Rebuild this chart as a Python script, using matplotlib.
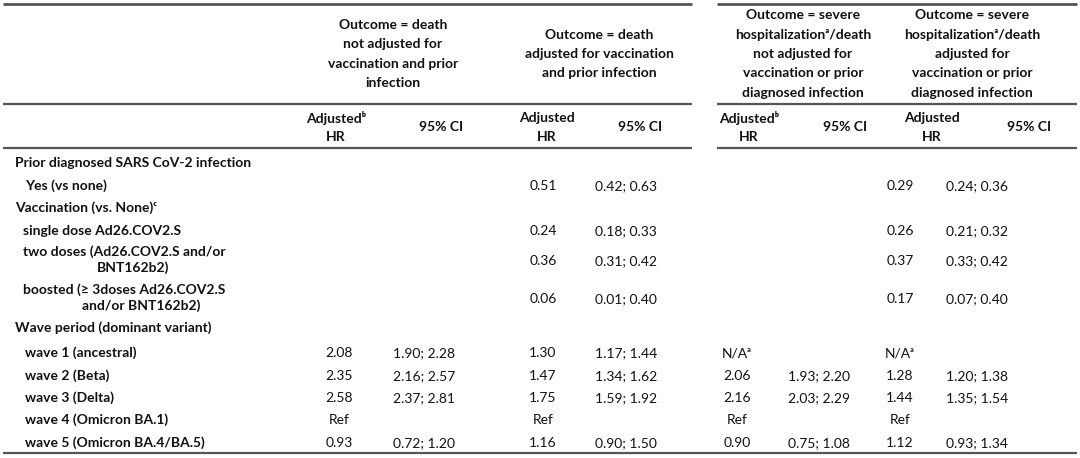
import matplotlib.pyplot as plt

plt.rcParams['font.family'] = ['Lato', 'DejaVu Sans']

# row labels (text, x, y) -- left column
row_labels = [
    ("Prior diagnosed SARS CoV-2 infection", 15, 163),
    ("Yes (vs none)", 25, 186),
    ("Vaccination (vs. None)ᶜ", 15, 208),
    ("single dose Ad26.COV2.S", 23, 231),
    ("two doses (Ad26.COV2.S and/or", 23, 252),
    ("BNT162b2)", 97, 268),
    ("boosted (≥ 3doses Ad26.COV2.S", 23, 290),
    ("and/or BNT162b2)", 82, 306),
    ("Wave period (dominant variant)", 15, 328),
    ("wave 1 (ancestral)", 25, 353),
    ("wave 2 (Beta)", 25, 376),
    ("wave 3 (Delta)", 25, 398),
    ("wave 4 (Omicron BA.1)", 25, 420),
    ("wave 5 (Omicron BA.4/BA.5)", 25, 443),
]

# value rows: yes, single, two doses, boosted, wave1..wave5
value_rows_y = [186, 231, 261, 299, 353, 376, 398, 420, 443]

death_unadj_hr = ["", "", "", "", "2.08", "2.35", "2.58", "Ref", "0.93"]
death_unadj_ci = ["", "", "", "", "1.90; 2.28", "2.16; 2.57", "2.37; 2.81", "", "0.72; 1.20"]
death_adj_hr = ["0.51", "0.24", "0.36", "0.06", "1.30", "1.47", "1.75", "Ref", "1.16"]
death_adj_ci = ["0.42; 0.63", "0.18; 0.33", "0.31; 0.42", "0.01; 0.40",
                "1.17; 1.44", "1.34; 1.62", "1.59; 1.92", "", "0.90; 1.50"]
sev_unadj_hr = ["", "", "", "", "N/Aᵃ", "2.06", "2.16", "Ref", "0.90"]
sev_unadj_ci = ["", "", "", "", "", "1.93; 2.20", "2.03; 2.29", "", "0.75; 1.08"]
sev_adj_hr = ["0.29", "0.26", "0.37", "0.17", "N/Aᵃ", "1.28", "1.44", "Ref", "1.12"]
sev_adj_ci = ["0.24; 0.36", "0.21; 0.32", "0.33; 0.42", "0.07; 0.40",
              "", "1.20; 1.38", "1.35; 1.54", "", "0.93; 1.34"]

group_titles = [
    ["Outcome = death", "not adjusted for", "vaccination and prior", "infection"],
    ["Outcome = death", "adjusted for vaccination", "and prior infection"],
    ["Outcome = severe", "hospitalizationᵃ/death", "not adjusted for",
     "vaccination or prior", "diagnosed infection"],
    ["Outcome = severe", "hospitalizationᵃ/death", "adjusted for",
     "vaccination or prior", "diagnosed infection"],
]
hr_headers = [["Adjustedᵇ", "HR"], ["Adjusted", "HR"], ["Adjustedᵇ", "HR"], ["Adjusted", "HR"]]

# layout (pixels)
group_x = [393, 599, 803, 972]
hr_head_x = [336, 547, 749, 932]
ci_head_x = [441, 640, 845, 1029]
hr_x = [339, 543, 737, 900]
ci_x = [424, 626, 819, 977]

fig = plt.figure(figsize=(10.8, 4.58), dpi=100)
ax = fig.add_axes([0, 0, 1, 1])
ax.set_xlim(0, 1080)
ax.set_ylim(458, 0)
ax.axis('off')

fs = 10
txt = '#111111'
line_c = '#555555'

# rules
for y, lw in [(4, 2.0), (104, 1.6), (148, 1.6)]:
    ax.plot([3, 692], [y, y], color=line_c, lw=lw, solid_capstyle='butt')
    ax.plot([717, 1077], [y, y], color=line_c, lw=lw, solid_capstyle='butt')
ax.plot([3, 1077], [453, 453], color=line_c, lw=1.6, solid_capstyle='butt')

# group headers, vertically centred around y=54
for gx, lines in zip(group_x, group_titles):
    n = len(lines)
    y0 = 54 - (n - 1) * 19.3 / 2
    for i, s in enumerate(lines):
        ax.text(gx, y0 + i * 19.3, s, ha='center', va='center',
                fontsize=fs, fontweight='bold', color=txt)

# sub headers
for hx, cx, hh in zip(hr_head_x, ci_head_x, hr_headers):
    ax.text(hx, 118, hh[0], ha='center', va='center', fontsize=fs, fontweight='bold', color=txt)
    ax.text(hx, 137, hh[1], ha='center', va='center', fontsize=fs, fontweight='bold', color=txt)
    ax.text(cx, 127, "95% CI", ha='center', va='center', fontsize=fs, fontweight='bold', color=txt)

# row labels
for s, x, y in row_labels:
    ax.text(x, y, s, ha='left', va='center', fontsize=fs, fontweight='bold', color=txt)

# values
cols = [(death_unadj_hr, death_unadj_ci), (death_adj_hr, death_adj_ci),
        (sev_unadj_hr, sev_unadj_ci), (sev_adj_hr, sev_adj_ci)]
for (hrs, cis), hx, cx in zip(cols, hr_x, ci_x):
    for y, h, c in zip(value_rows_y, hrs, cis):
        if h:
            ax.text(hx, y, h, ha='center', va='center', fontsize=fs, color=txt)
        if c:
            ax.text(cx, y, c, ha='center', va='center', fontsize=fs, color=txt)

fig.savefig('out.png', dpi=100)
